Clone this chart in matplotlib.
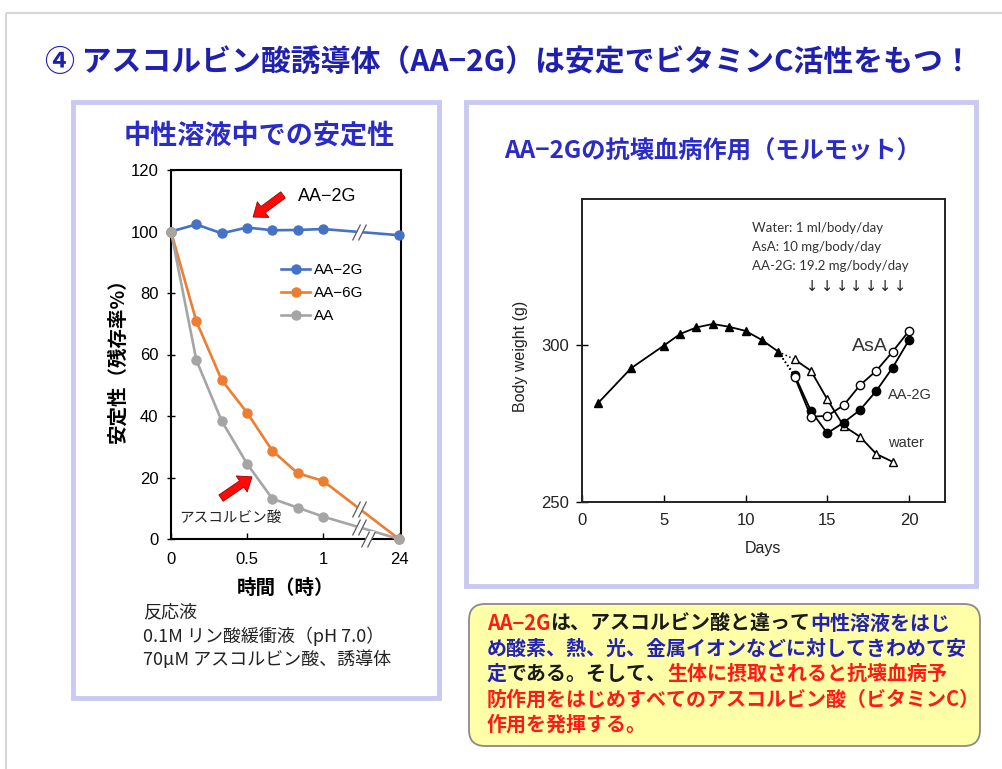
import numpy as np
import matplotlib
matplotlib.use("Agg")
import matplotlib.pyplot as plt
from matplotlib.path import Path
from matplotlib.patches import FancyArrowPatch, FancyBboxPatch, Rectangle
from matplotlib.ticker import NullLocator

JP = ["Noto Sans CJK JP", "DejaVu Sans"]
LAT = ["Liberation Sans", "DejaVu Sans"]
plt.rcParams["font.family"] = JP

# ---- stability in neutral solution (remaining %) ----
minutes = [0, 10, 20, 30, 40, 50, 60, 1440]
aa2g = [100, 102.3, 99.4, 101.3, 100.4, 100.5, 100.8, 98.8]
aa6g = [100, 70.8, 51.7, 41.1, 28.7, 21.4, 18.9, 0]
aa = [100, 58.2, 38.4, 24.5, 13.1, 10.2, 7.3, 0]
stab_labels = ["AA−2G", "AA−6G", "AA"]
stab_colors = ["#4472C4", "#ED7D31", "#A5A5A5"]
hour_ticks = [0, 0.5, 1, 24]
hour_ticklabels = ["0", "0.5", "1", "24"]
pct_ticks = [0, 20, 40, 60, 80, 100, 120]

# ---- guinea pig body weight (g) ----
pre_days = [1, 3, 5, 6, 7, 8, 9, 10, 11, 12]
pre_weight = [281.6, 292.6, 299.8, 303.5, 305.6, 306.7, 305.8, 304.5, 301.6, 297.9]
treat_days = [13, 14, 15, 16, 17, 18, 19, 20]
water_weight = [295.4, 291.8, 282.7, 274.2, 270.8, 265.3, 262.8]
asa_weight = [289.9, 277.2, 277.4, 280.8, 287.2, 291.8, 297.9, 304.5]
aa2g_weight = [290.5, 279.0, 271.9, 275.3, 279.3, 285.4, 292.8, 301.6]
day_ticks = [0, 5, 10, 15, 20]
weight_ticks = [250, 300]
dose_lines = ["Water: 1 ml/body/day", "AsA: 10 mg/body/day", "AA-2G: 19.2 mg/body/day"]

W, H = 1003, 769
fig = plt.figure(figsize=(W / 100, H / 100), dpi=100)
fig.patch.set_facecolor("white")


def px_rect(x0, y0, x1, y1):
    return [x0 / W, 1 - y1 / H, (x1 - x0) / W, (y1 - y0) / H]


# full-slide canvas in pixel units
bg = fig.add_axes([0, 0, 1, 1], zorder=0)
bg.set_xlim(0, W)
bg.set_ylim(H, 0)
bg.axis("off")

bg.add_patch(Rectangle((6, 13), W, H, fill=False, ec="#D6D6D6", lw=1.5))
for x0, y0, x1, y1 in [(73, 102, 439, 698), (466, 102, 976, 586)]:
    bg.add_patch(Rectangle((x0, y0), x1 - x0, y1 - y0, fill=False,
                           ec="#C9C9F3", lw=3.5))

bg.text(45, 62, "④ アスコルビン酸誘導体（AA−2G）は安定でビタミンC活性をもつ！",
        fontsize=21.5, fontweight="bold", color="#2020B0", va="center", ha="left")
bg.text(259, 136, "中性溶液中での安定性", fontsize=19.5, fontweight="bold",
        color="#2B2BC8", va="center", ha="center")
bg.text(712, 152, "AA−2Gの抗壊血病作用（モルモット）", fontsize=17.5,
        fontweight="bold", color="#2B2BC8", va="center", ha="center")

# ---------------- left: stability chart ----------------
axL = fig.add_axes(px_rect(171, 170, 401, 539), zorder=1)
axL.set_facecolor("none")


def fwd(h):
    h = np.asarray(h, dtype=float)
    return np.where(h <= 1, h, 1 + (h - 1) * 0.5 / 23)


def inv(p):
    p = np.asarray(p, dtype=float)
    return np.where(p <= 1, p, 1 + (p - 1) * 46)


axL.set_xscale("function", functions=(fwd, inv))
hours = np.array(minutes) / 60.0

for vals, col, lab, z in zip([aa2g, aa6g, aa], stab_colors, stab_labels, [3, 3.1, 3.2]):
    axL.plot(hours, vals, "-o", color=col, lw=1.9, ms=6.5, label=lab,
             clip_on=False, zorder=z)

# broken-axis marks
gap_mk = Path([(-7, -8), (-1, -8), (7, 8), (1, 8), (-7, -8)],
              [Path.MOVETO, Path.LINETO, Path.LINETO, Path.LINETO, Path.CLOSEPOLY])
slash_mk = Path([(-7, -8), (1, 8), (-1, -8), (7, 8)],
                [Path.MOVETO, Path.LINETO, Path.MOVETO, Path.LINETO])


def break_mark(ax, x, y):
    ax.plot([x], [y], ls="none", marker=gap_mk, ms=11.5, mfc="white",
            mec="white", mew=0.5, zorder=6, clip_on=False)
    ax.plot([x], [y], ls="none", marker=slash_mk, ms=11.5, mfc="none",
            mec="#5A5A5A", mew=0.9, zorder=7, clip_on=False)


for vals in [aa2g, aa6g, aa]:
    yb = float(np.interp(fwd(12.0), fwd(hours), vals))
    break_mark(axL, 12.0, yb)
break_mark(axL, 14.5, 0)

axL.set_xlim(0, 24.6)
axL.set_ylim(0, 120)
axL.set_xticks(hour_ticks)
axL.set_xticklabels(hour_ticklabels)
axL.xaxis.set_minor_locator(NullLocator())
axL.set_yticks(pct_ticks)
axL.tick_params(axis="x", direction="in", length=4, width=1, pad=9, labelsize=12)
axL.tick_params(axis="y", direction="inout", length=6, width=1, pad=6, labelsize=12)
for lbl in axL.get_xticklabels() + axL.get_yticklabels():
    lbl.set_fontfamily(LAT)
for sp in axL.spines.values():
    sp.set_linewidth(1.5)
    sp.set_color("black")

leg = axL.legend(loc="upper left", bbox_to_anchor=(0.48, 0.748), frameon=False,
                 prop={"family": LAT, "size": 11}, handlelength=1.9,
                 handletextpad=0.25, labelspacing=0.6, borderpad=0,
                 borderaxespad=0)

axL.text(0.836, 111.4, "AA−2G", fontsize=13, family=LAT, va="center", ha="left")
axL.text(0.055, 7.0, "アスコルビン酸", fontsize=10.5, va="center", ha="left",
         color="#222222")

arrow_style = "simple,head_length=9,head_width=14,tail_width=5.5"
for tail, head in [((0.737, 111.9), (0.54, 104.7)), ((0.329, 13.3), (0.533, 20.2))]:
    axL.add_patch(FancyArrowPatch(tail, head, arrowstyle=arrow_style,
                                  mutation_scale=1, fc="#FF0A0A", ec="#A00000",
                                  lw=0.6, shrinkA=0, shrinkB=0, clip_on=False,
                                  zorder=8))

bg.text(118, 356, "安定性（残存率%）", rotation=90, fontsize=14, fontweight="bold",
        va="center", ha="center")
bg.text(286, 588, "時間（時）", fontsize=14, fontweight="bold", va="center",
        ha="center")

bg.text(143, 612, "反応液", fontsize=13, va="center", ha="left", color="#222222")
bg.text(143, 636, "0.1M リン酸緩衝液（pH 7.0）", fontsize=13, va="center",
        ha="left", color="#222222")
bg.text(143, 660, "70µM アスコルビン酸、誘導体", fontsize=13, va="center",
        ha="left", color="#222222")

# ---------------- right: body weight chart ----------------
axR = fig.add_axes(px_rect(582, 199, 945, 502), zorder=1)
axR.set_facecolor("none")

axR.plot(pre_days, pre_weight, "-^", color="black", lw=1.3, ms=6,
         mfc="black", zorder=3)
for wts in [water_weight, asa_weight, aa2g_weight]:
    axR.plot([pre_days[-1], treat_days[0]], [pre_weight[-1], wts[0]], ":",
             color="black", lw=1.1, zorder=2)
axR.plot(treat_days[:len(water_weight)], water_weight, "-^", color="black",
         lw=1.3, ms=6, mfc="white", zorder=3)
axR.plot(treat_days, aa2g_weight, "-o", color="black", lw=1.3, ms=6,
         mfc="black", zorder=4)
axR.plot(treat_days, asa_weight, "-o", color="black", lw=1.3, ms=6,
         mfc="white", zorder=5)

axR.set_xlim(0, 22.2)
axR.set_ylim(250, 346.5)
axR.set_xticks(day_ticks)
axR.set_yticks(weight_ticks)
axR.tick_params(axis="x", direction="in", length=5, width=1, pad=8, labelsize=12)
axR.tick_params(axis="y", direction="inout", length=8, width=1, pad=5, labelsize=12)
for lbl in axR.get_xticklabels() + axR.get_yticklabels():
    lbl.set_fontfamily(LAT)
    lbl.set_color("#222222")
for sp in axR.spines.values():
    sp.set_linewidth(1.4)
    sp.set_color("#222222")

for i, line in enumerate(dose_lines):
    axR.text(10.4, 337.3 - 6.05 * i, line, fontsize=9.5, family=["Lato", "DejaVu Sans"],
             color="#333333", va="center", ha="left")
for xd in np.linspace(14.1, 19.45, 7):
    axR.text(xd, 318.6, "↓", fontsize=10.5, family=["DejaVu Sans"], color="#222222",
             va="center", ha="center")

axR.text(17.6, 299.4, "AsA", fontsize=14, family=LAT, color="#333333",
         va="center", ha="center")
axR.text(18.7, 284.0, "AA-2G", fontsize=10.5, family=LAT, color="#333333",
         va="center", ha="left")
axR.text(18.7, 268.8, "water", fontsize=10.5, family=LAT, color="#333333",
         va="center", ha="left")

bg.text(521, 356, "Body weight (g)", rotation=90, fontsize=11.5, family=LAT,
        color="#222222", va="center", ha="center")
bg.text(763, 549, "Days", fontsize=11.5, family=LAT, color="#222222",
        va="center", ha="center")

# ---------------- summary box ----------------
bg.add_patch(FancyBboxPatch((469, 604), 511, 142,
                            boxstyle="round,pad=0,rounding_size=16",
                            fc="#FFFFA8", ec="#8A8A8A", lw=1.3, zorder=1))

RED, BLUE, BLACK = "#FF1A1A", "#2222B4", "#1A1A1A"
box_lines = [
    [("AA−2G", RED), ("は、アスコルビン酸と違って", BLACK), ("中性溶液をはじ", BLUE)],
    [("め酸素、熱、光、金属イオンなどに対してきわめて安", BLUE)],
    [("定", BLUE), ("である。そして、", BLACK), ("生体に摂取されると抗壊血病予", RED)],
    [("防作用をはじめすべてのアスコルビン酸（ビタミンC）", RED)],
    [("作用を発揮する。", RED)],
]


def rich_line(x, y, parts, size):
    t = bg.text(x, y, parts[0][0], color=parts[0][1], fontsize=size,
                fontweight="bold", va="center", ha="left", zorder=2)
    for s, c in parts[1:]:
        t = bg.annotate(s, xy=(1, 0), xycoords=t, va="bottom", ha="left",
                        color=c, fontsize=size, fontweight="bold", zorder=2)


for i, parts in enumerate(box_lines):
    rich_line(487, 623 + 25.3 * i, parts, 14.4)

fig.savefig("out.png", dpi=100, facecolor="white")
